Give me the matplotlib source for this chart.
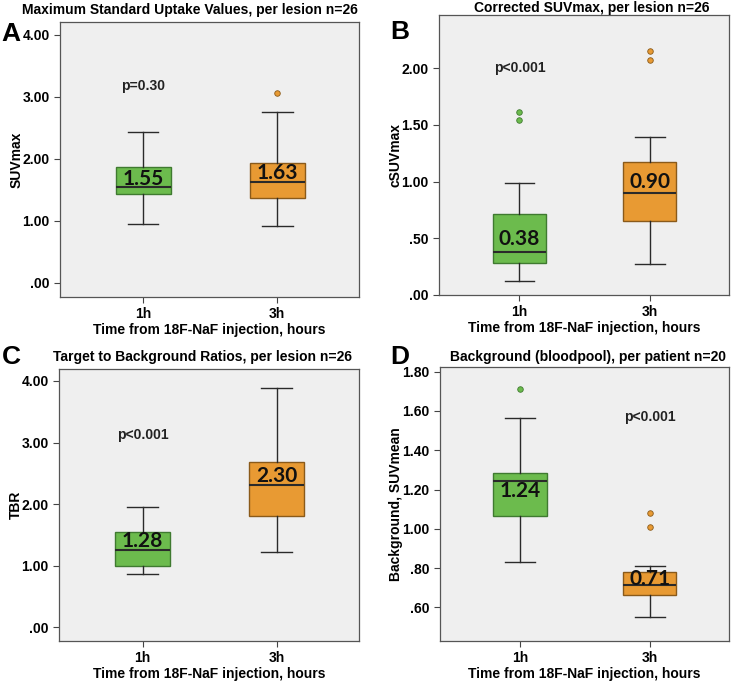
import matplotlib
matplotlib.use("Agg")
import matplotlib.pyplot as plt

plt.rcParams['font.family'] = ['Liberation Sans', 'DejaVu Sans']

groups = ["1h", "3h"]
xlabel = "Time from 18F-NaF injection, hours"

# Panel A: SUVmax
a_stats = [dict(whislo=0.95, q1=1.43, med=1.55, q3=1.87, whishi=2.43, fliers=[]),
           dict(whislo=0.91, q1=1.37, med=1.63, q3=1.93, whishi=2.75, fliers=[3.06])]
a_labels = ["1.55", "1.63"]
a_label_y = [1.68, 1.77]
# Panel B: cSUVmax
b_stats = [dict(whislo=0.12, q1=0.28, med=0.38, q3=0.71, whishi=0.99, fliers=[1.54, 1.61]),
           dict(whislo=0.27, q1=0.65, med=0.90, q3=1.17, whishi=1.39, fliers=[2.07, 2.15])]
b_labels = ["0.38", "0.90"]
b_label_y = [0.49, 1.00]
# Panel C: TBR
c_stats = [dict(whislo=0.86, q1=0.99, med=1.25, q3=1.55, whishi=1.95, fliers=[]),
           dict(whislo=1.22, q1=1.80, med=2.31, q3=2.68, whishi=3.88, fliers=[])]
c_labels = ["1.28", "2.30"]
c_label_y = [1.41, 2.46]
# Panel D: Background
d_stats = [dict(whislo=0.833, q1=1.065, med=1.243, q3=1.286, whishi=1.562, fliers=[1.712]),
           dict(whislo=0.553, q1=0.663, med=0.714, q3=0.782, whishi=0.812, fliers=[1.011, 1.082])]
d_labels = ["1.24", "0.71"]
d_label_y = [1.193, 0.744]

colors = ["#6cbb4d", "#e89a33"]
edges = ["#3f7a30", "#8a5a1a"]

panels = [
    dict(letter="A", title="Maximum Standard Uptake Values, per lesion n=26", ylabel="SUVmax",
         stats=a_stats, labels=a_labels, label_y=a_label_y, ylim=(-0.23, 4.21),
         yticks=[0, 1, 2, 3, 4], yticklabels=[".00", "1.00", "2.00", "3.00", "4.00"],
         p="p=0.30", px=1, py=3.18,
         pos=[0.081, 0.566, 0.404, 0.402], letterxy=(0.002, 0.950), titlex=0.256, titley=0.985),
    dict(letter="B", title="Corrected SUVmax, per lesion n=26", ylabel="cSUVmax",
         stats=b_stats, labels=b_labels, label_y=b_label_y, ylim=(0.0, 2.47),
         yticks=[0, 0.5, 1.0, 1.5, 2.0], yticklabels=[".00", ".50", "1.00", "1.50", "2.00"],
         p="p<0.001", px=1, py=2.00,
         pos=[0.593, 0.569, 0.392, 0.409], letterxy=(0.527, 0.953), titlex=0.80, titley=0.989),
    dict(letter="C", title="Target to Background Ratios, per lesion n=26", ylabel="TBR",
         stats=c_stats, labels=c_labels, label_y=c_label_y, ylim=(-0.22, 4.2),
         yticks=[0, 1, 2, 3, 4], yticklabels=[".00", "1.00", "2.00", "3.00", "4.00"],
         p="p<0.001", px=1, py=3.12,
         pos=[0.080, 0.063, 0.405, 0.398], letterxy=(0.002, 0.478), titlex=0.273, titley=0.478),
    dict(letter="D", title="Background (bloodpool), per patient n=20", ylabel="Background, SUVmean",
         stats=d_stats, labels=d_labels, label_y=d_label_y, ylim=(0.43, 1.825),
         yticks=[0.6, 0.8, 1.0, 1.2, 1.4, 1.6, 1.8],
         yticklabels=[".60", ".80", "1.00", "1.20", "1.40", "1.60", "1.80"],
         p="p<0.001", px=2, py=1.57,
         pos=[0.594, 0.063, 0.391, 0.401], letterxy=(0.527, 0.478), titlex=0.794, titley=0.478),
]

fig = plt.figure(figsize=(7.4, 6.84), dpi=100)
fig.patch.set_facecolor("white")

for pn in panels:
    ax = fig.add_axes(pn["pos"])
    ax.set_facecolor("#efefef")
    stats = []
    for g, s in zip(groups, pn["stats"]):
        d = dict(s)
        d["label"] = g
        stats.append(d)
    bp = ax.bxp(stats, positions=[1, 2], widths=0.41, patch_artist=True,
                showfliers=True,
                boxprops=dict(linewidth=1.0),
                medianprops=dict(color="#2a2a2a", linewidth=1.5),
                whiskerprops=dict(color="#2a2a2a", linewidth=1.0),
                capprops=dict(color="#2a2a2a", linewidth=1.0),
                capwidths=0.23)
    for i, box in enumerate(bp["boxes"]):
        box.set_facecolor(colors[i])
        box.set_edgecolor(edges[i])
    for i, fl in enumerate(bp["fliers"]):
        fl.set_marker("o")
        fl.set_markersize(4)
        fl.set_markerfacecolor(colors[i])
        fl.set_markeredgecolor(edges[i])
        fl.set_markeredgewidth(0.6)
    for i, (lab, ly) in enumerate(zip(pn["labels"], pn["label_y"])):
        ax.text(i + 1, ly, lab, ha="center", va="center", fontsize=15,
                fontweight="bold", family=["Lato", "DejaVu Sans"], color="#111111")
    ax.text(pn["px"], pn["py"], pn["p"], ha="center", va="center", fontsize=10,
            fontweight="bold", color="#222222")
    ax.set_xlim(0.38, 2.61)
    ax.set_ylim(*pn["ylim"])
    ax.set_yticks(pn["yticks"])
    ax.set_yticklabels(pn["yticklabels"])
    ax.set_xticks([1, 2])
    ax.set_xticklabels(groups)
    ax.tick_params(axis="both", labelsize=10, length=4, color="#444444", width=0.8)
    for t in ax.get_xticklabels() + ax.get_yticklabels():
        t.set_fontweight("bold")
    ax.set_xlabel(xlabel, fontsize=10, fontweight="bold", labelpad=1)
    ax.set_ylabel(pn["ylabel"], fontsize=10, fontweight="bold", labelpad=-1)
    for sp in ax.spines.values():
        sp.set_color("#555555")
        sp.set_linewidth(0.9)
    fig.text(pn["titlex"], pn["titley"], pn["title"], ha="center", va="center",
             fontsize=10, fontweight="bold")
    fig.text(pn["letterxy"][0], pn["letterxy"][1], pn["letter"], ha="left", va="center",
             fontsize=19, fontweight="bold")

fig.savefig("out.png", dpi=100)
